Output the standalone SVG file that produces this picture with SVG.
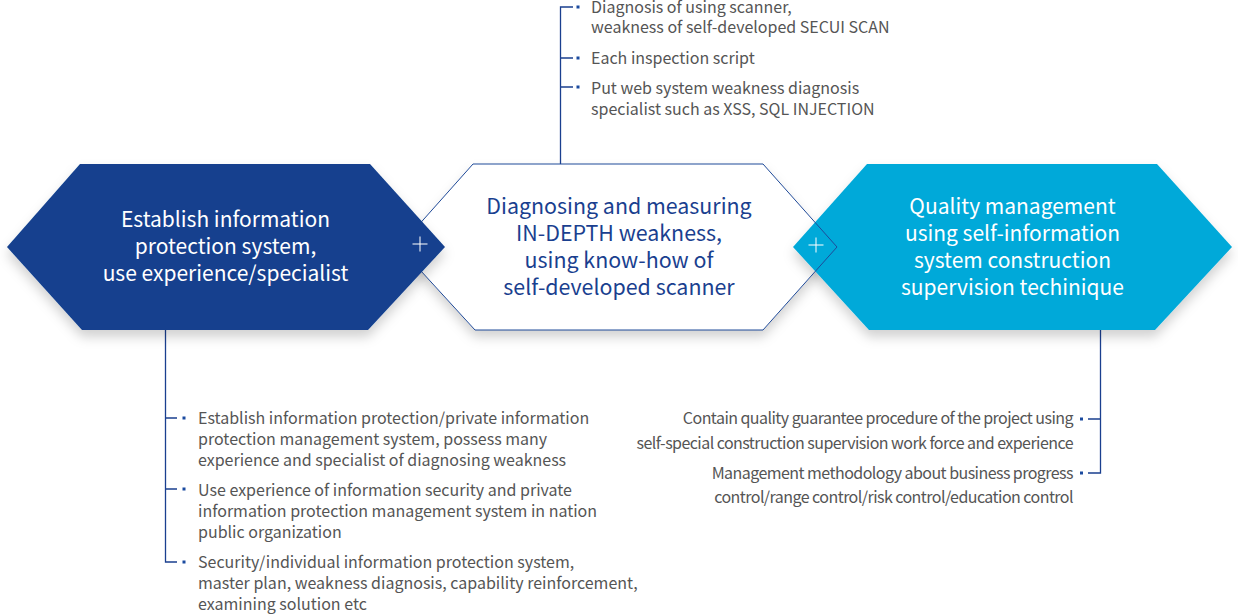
<svg xmlns="http://www.w3.org/2000/svg" width="1238" height="614" viewBox="0 0 1238 614">
<defs>
<filter id="sh" x="-10%" y="-10%" width="120%" height="140%">
<feDropShadow dx="0" dy="7" stdDeviation="6" flood-color="#000" flood-opacity="0.18"/>
</filter>
<style>
.hx{font-family:"Noto Sans CJK KR","Noto Sans",sans-serif;font-size:21px;text-anchor:middle}
.w{fill:#ffffff}
.b{fill:#1a3f8f;font-size:21.4px}
.t{font-family:"Noto Sans CJK KR","Noto Sans",sans-serif;font-size:16px;fill:#555555}
.r{text-anchor:end;letter-spacing:-0.55px}
.ln{stroke:#1a3f8f;stroke-width:1.3;fill:none}
.bl{fill:#1a4a9f}
.pl{stroke:#ffffff;stroke-width:1.2;stroke-opacity:0.85}
</style>
</defs>
<rect width="1238" height="614" fill="#ffffff"/>

<g id="connectors">
<path class="ln" d="M560.5,164V7H573M560.5,58H573M560.5,87H573"/>
<path class="ln" d="M165.5,330V562H177M165.5,418H177M165.5,489H177"/>
<path class="ln" d="M1100.5,330V473H1088M1100.5,419H1088"/>
<rect class="bl" x="576.5" y="5.5" width="3" height="3"/>
<rect class="bl" x="576.5" y="56.5" width="3" height="3"/>
<rect class="bl" x="576.5" y="85.5" width="3" height="3"/>
<rect class="bl" x="182.5" y="416.5" width="3" height="3"/>
<rect class="bl" x="182.5" y="487.5" width="3" height="3"/>
<rect class="bl" x="182.5" y="560.5" width="3" height="3"/>
<rect class="bl" x="1080" y="417.5" width="3" height="3"/>
<rect class="bl" x="1080" y="471.5" width="3" height="3"/>
</g>

<g id="node-middle">
<polygon points="473,164 763,164 837,247 763,330 475,330 399,247" fill="#ffffff" filter="url(#sh)"/>
</g>

<g id="node-right">
<polygon points="867,164 1157,164 1232,247 1155,330 869,330 793,247" fill="#00a9d9" filter="url(#sh)"/>
<line class="pl" x1="808.5" y1="245" x2="823.5" y2="245"/>
<line class="pl" x1="816" y1="237.5" x2="816" y2="252.5"/>
<text class="hx w" x="1012.5" y="214">Quality management</text>
<text class="hx w" x="1012.5" y="241">using self-information</text>
<text class="hx w" x="1012.5" y="268">system construction</text>
<text class="hx w" x="1012.5" y="295">supervision techinique</text>
</g>

<g id="node-middle-text">
<polygon points="473,164 763,164 837,247 763,330 475,330 399,247" fill="none" stroke="#1f4a99" stroke-width="1"/>
<text class="hx b" x="619" y="214">Diagnosing and measuring</text>
<text class="hx b" x="619" y="241">IN-DEPTH weakness,</text>
<text class="hx b" x="619" y="268">using know-how of</text>
<text class="hx b" x="619" y="295">self-developed scanner</text>
</g>

<g id="node-left">
<polygon points="80,164 370,164 445,247 368,330 82,330 7,247" fill="#123f8e" filter="url(#sh)"/>
<line class="pl" x1="412.5" y1="244" x2="427.5" y2="244"/>
<line class="pl" x1="420" y1="236.5" x2="420" y2="251.5"/>
<text class="hx w" x="225.5" y="227">Establish information</text>
<text class="hx w" x="225.5" y="254">protection system,</text>
<text class="hx w" x="225.5" y="281">use experience/specialist</text>
</g>

<g id="notes-top">
<text class="t" x="591" y="12.5">Diagnosis of using scanner,</text>
<text class="t" x="591" y="33">weakness of self-developed SECUI SCAN</text>
<text class="t" x="591" y="63.5">Each inspection script</text>
<text class="t" x="591" y="94">Put web system weakness diagnosis</text>
<text class="t" x="591" y="115">specialist such as XSS, SQL INJECTION</text>
</g>

<g id="notes-left">
<text class="t" x="198" y="423.5">Establish information protection/private information</text>
<text class="t" x="198" y="444.5">protection management system, possess many</text>
<text class="t" x="198" y="465.5">experience and specialist of diagnosing weakness</text>
<text class="t" x="198" y="495.5">Use experience of information security and private</text>
<text class="t" x="198" y="516.5">information protection management system in nation</text>
<text class="t" x="198" y="537.5">public organization</text>
<text class="t" x="198" y="567.5">Security/individual information protection system,</text>
<text class="t" x="198" y="588.5">master plan, weakness diagnosis, capability reinforcement,</text>
<text class="t" x="198" y="609.5">examining solution etc</text>
</g>

<g id="notes-right">
<text class="t r" x="1073" y="424">Contain quality guarantee procedure of the project using</text>
<text class="t r" x="1073" y="448.5">self-special construction supervision work force and experience</text>
<text class="t r" x="1073" y="478.5">Management methodology about business progress</text>
<text class="t r" x="1073" y="503">control/range control/risk control/education control</text>
</g>
</svg>
